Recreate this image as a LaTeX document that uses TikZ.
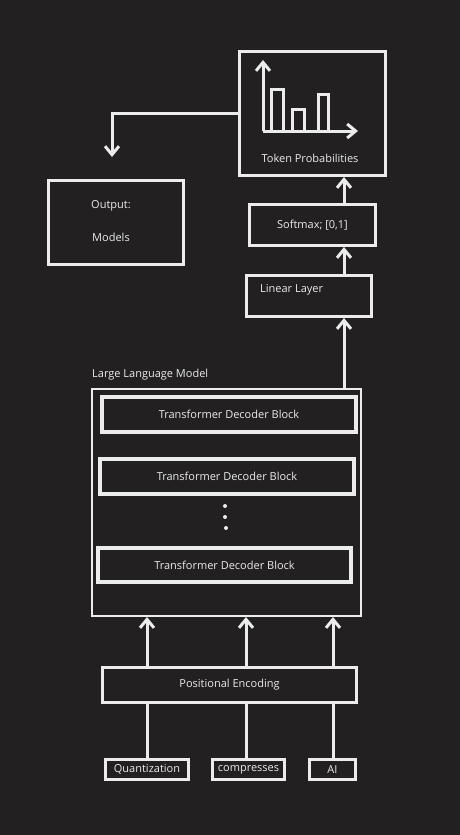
\documentclass[tikz,border=0pt]{standalone}
\usepackage{fontspec}
\setmainfont{Open Sans}
\usetikzlibrary{arrows.meta}
\definecolor{canvas}{RGB}{34,32,32}
\definecolor{chalk}{RGB}{236,236,236}

\tikzset{
  box/.style={draw=chalk, line width=3pt, inner sep=0pt},
  thinbox/.style={draw=chalk, line width=2pt, inner sep=0pt},
  blockbox/.style={draw=chalk, line width=4.5pt, inner sep=0pt},
  lbl/.style={text=chalk, font=\fontsize{11}{13}\selectfont, inner sep=0pt},
  wire/.style={draw=chalk, line width=3pt},
  arr/.style={wire, -{Straight Barb[length=8.5pt,width=14pt]}},
}

\begin{document}
\begin{tikzpicture}[x=1pt, y=-1pt]
  % Canvas
  \fill[canvas] (0,0) rectangle (460,835);
  \useasboundingbox (0,0) rectangle (460,835);

  % Columns of the connectors
  \coordinate (rcol) at (344,0);
  \coordinate (c1) at (147,0);
  \coordinate (c2) at (246,0);
  \coordinate (c3) at (333,0);

  % Top: probabilities and output
  \node[box, minimum width=146pt, minimum height=124pt] (tokprob) at (312.5,113.5) {};
  \node[lbl] (tokprobtxt) at (310,158) {Token Probabilities};
  \node[box, minimum width=135pt, minimum height=84pt] (output) at (116,222.5) {};
  \node[lbl] (outtxt) at (111,206) {Output:};
  \node[lbl] (modtxt) at (111,237) {Models};
  \coordinate (outtip) at (112,157);

  % Chart
  \draw[arr] (263,131) -- (263,60);
  \draw[arr] (263,131) -- (358,131);
  \draw[wire] (271.5,131) rectangle (283.5,89.5);
  \draw[wire] (292.5,131) rectangle (304.5,109.5);
  \draw[wire] (318.5,131) rectangle (328.5,94.5);

  % Head layers
  \node[box, lbl, minimum width=126pt, minimum height=41pt] (softmax) at (312.5,225) {Softmax; [0,1]};
  \node[box, minimum width=125pt, minimum height=41pt] (linear) at (309,296) {};
  \node[lbl, anchor=west] (lintxt) at (260,290) {Linear Layer};

  % Model
  \node[thinbox, minimum width=269pt, minimum height=227pt] (llm) at (226.5,502.5) {};
  \node[lbl, anchor=west] (llmtxt) at (92,375) {Large Language Model};
  \node[blockbox, lbl, minimum width=254pt, minimum height=35pt] (dec1) at (229,414.5) {Transformer Decoder Block};
  \node[blockbox, lbl, minimum width=254pt, minimum height=35pt] (dec2) at (227,476.5) {Transformer Decoder Block};
  \node[blockbox, lbl, minimum width=253pt, minimum height=34pt] (dec3) at (224.5,565) {Transformer Decoder Block};
  \fill[chalk] (225,506) circle (2pt) (225,517) circle (2pt) (226,528) circle (2pt);

  % Input
  \node[box, lbl, minimum width=254pt, minimum height=35pt] (posenc) at (229.5,685) {Positional Encoding};
  \node[box, lbl, minimum width=83pt, minimum height=20pt] (quant) at (147,769.5) {Quantization};
  \node[box, lbl, minimum width=72pt, minimum height=20pt] (compr) at (248.5,769.5) {compresses};
  \node[box, lbl, minimum width=46pt, minimum height=20pt] (ai) at (332.5,769.5) {AI};

  % Connectors
  \draw[arr] (tokprob.west) -| (outtip);
  \draw[arr] (rcol |- softmax.north) -- (rcol |- tokprob.south);
  \draw[arr] (rcol |- linear.north) -- (rcol |- softmax.south);
  \draw[arr] (rcol |- llm.north) -- (rcol |- linear.south);
  \draw[wire] (c1 |- quant.north) -- (c1 |- posenc.south);
  \draw[wire] (c2 |- compr.north) -- (c2 |- posenc.south);
  \draw[wire] (c3 |- ai.north) -- (c3 |- posenc.south);
  \draw[arr] (c1 |- posenc.north) -- (c1 |- llm.south);
  \draw[arr] (c2 |- posenc.north) -- (c2 |- llm.south);
  \draw[arr] (c3 |- posenc.north) -- (c3 |- llm.south);
\end{tikzpicture}
\end{document}
